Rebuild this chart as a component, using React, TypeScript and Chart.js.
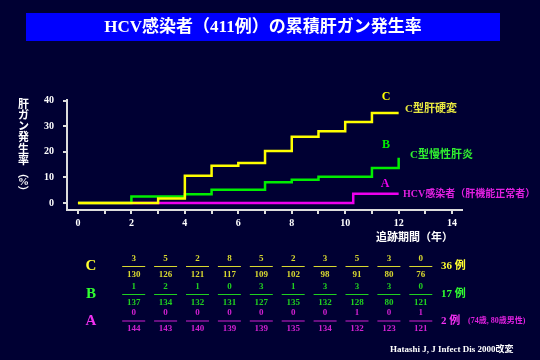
import React, { useEffect, useRef } from 'react';
import { Chart, registerables } from 'chart.js';

Chart.register(...registerables);

// ---- chart data (cumulative incidence, %) ----
const cirrhosisX = [0, 3, 4, 5, 6, 7, 8, 9, 10, 11, 12];
const cirrhosisY = [0, 1.8, 10.7, 14.6, 15.6, 20.3, 25.9, 28.1, 31.7, 35.2, 35.2];
const chronicX = [0, 2, 4, 5, 7, 8, 9, 11, 12];
const chronicY = [0, 2.5, 3.4, 5.2, 8.1, 9.1, 10.3, 13.7, 17.7];
const normalX = [0, 10.3, 12];
const normalY = [0, 3.6, 3.6];

const xTicks = [0, 1, 2, 3, 4, 5, 6, 7, 8, 9, 10, 11, 12, 13, 14];
const yTicks = [0, 10, 20, 30, 40];

// ---- table below chart ----
const rowLabels = ['C', 'B', 'A'];
const cNum = [3, 5, 2, 8, 5, 2, 3, 5, 3, 0];
const cDen = [130, 126, 121, 117, 109, 102, 98, 91, 80, 76];
const bNum = [1, 2, 1, 0, 3, 1, 3, 3, 3, 0];
const bDen = [137, 134, 132, 131, 127, 135, 132, 128, 80, 121];
const aNum = [0, 0, 0, 0, 0, 0, 0, 1, 0, 1];
const aDen = [144, 143, 140, 139, 139, 135, 134, 132, 123, 121];
const totals = [36, 17, 2];

const TITLE = 'HCV感染者（411例）の累積肝ガン発生率';
const Y_LABEL = '肝ガン発生率（%）';
const X_LABEL = '追跡期間（年）';
const SERIES_NAMES = ['C型肝硬変', 'C型慢性肝炎', 'HCV感染者（肝機能正常者）'];
const NOTE_A = '(74歳, 80歳男性)';
const SOURCE = 'Hatashi J, J Infect Dis 2000改変';

const BG = '#000033';
const YELLOW = '#ffff00';
const GREEN = '#00ee00';
const MAGENTA = '#ee00ee';
const SERIF = "'Liberation Serif', 'Noto Sans CJK JP', serif";
const GOTHIC = "'Noto Sans CJK JP', sans-serif";

function txt(
  ctx: CanvasRenderingContext2D,
  s: string,
  x: number,
  y: number,
  font: string,
  color: string,
  align: CanvasTextAlign = 'left'
) {
  ctx.font = font;
  ctx.fillStyle = color;
  ctx.textAlign = align;
  ctx.textBaseline = 'middle';
  ctx.fillText(s, x, y);
}

const decor = {
  id: 'decor',
  beforeDraw(chart: any) {
    const ctx: CanvasRenderingContext2D = chart.ctx;
    ctx.save();
    ctx.fillStyle = BG;
    ctx.fillRect(0, 0, chart.width, chart.height);
    ctx.fillStyle = '#0000ff';
    ctx.fillRect(26, 13, 474, 28);
    txt(ctx, TITLE, 263, 27.5, `bold 17px ${SERIF}`, '#ffffff', 'center');
    ctx.restore();
  },
  afterDraw(chart: any) {
    const ctx: CanvasRenderingContext2D = chart.ctx;
    ctx.save();
    // vertical y label
    const chars = Array.from(Y_LABEL);
    const ys = [105, 116, 127, 138.5, 150, 161.5, 173, 182, 191];
    chars.forEach((c, i) => {
      if (c === '（' || c === '）') {
        ctx.save();
        ctx.translate(23.5, ys[i]);
        ctx.rotate(Math.PI / 2);
        txt(ctx, c, 0, 0, `bold 11px ${GOTHIC}`, '#ffffff', 'center');
        ctx.restore();
      } else {
        txt(ctx, c, 23.5, ys[i], `bold 11px ${SERIF}`, '#ffffff', 'center');
      }
    });
    // series labels
    txt(ctx, 'C', 386, 97, `bold 12px ${SERIF}`, YELLOW, 'center');
    txt(ctx, SERIES_NAMES[0], 405, 109, `bold 11px ${SERIF}`, '#e8e840');
    txt(ctx, 'B', 386, 144.5, `bold 12px ${SERIF}`, GREEN, 'center');
    txt(ctx, SERIES_NAMES[1], 410, 155.5, `bold 11px ${SERIF}`, '#30f030');
    txt(ctx, 'A', 385, 184, `bold 12px ${SERIF}`, MAGENTA, 'center');
    txt(ctx, SERIES_NAMES[2], 403, 194, `bold 10px ${SERIF}`, '#e020e0');
    // x label
    txt(ctx, X_LABEL, 376, 238.5, `bold 11px ${SERIF}`, '#ffffff');

    // table
    const rows = [
      { num: cNum, den: cDen, color: '#d8d830', label: '#ffff30', y: 266 },
      { num: bNum, den: bDen, color: '#20d020', label: '#30ff30', y: 294 },
      { num: aNum, den: aDen, color: '#d020d0', label: '#f030f0', y: 320.5 },
    ];
    const colStart = 133.7;
    const colStep = 31.9;
    rows.forEach((r, ri) => {
      txt(ctx, rowLabels[ri], 91, r.y + 0.5, `bold 15px ${SERIF}`, r.label, 'center');
      r.num.forEach((n, i) => {
        const cx = colStart + i * colStep;
        txt(ctx, String(n), cx, r.y - 7.5, `bold 9px ${SERIF}`, r.color, 'center');
        txt(ctx, String(r.den[i]), cx, r.y + 8.5, `bold 9px ${SERIF}`, r.color, 'center');
        ctx.strokeStyle = r.color;
        ctx.lineWidth = 1;
        ctx.beginPath();
        ctx.moveTo(cx - 11.5, r.y + 0.5);
        ctx.lineTo(cx + 11.5, r.y + 0.5);
        ctx.stroke();
      });
      txt(ctx, `${totals[ri]} 例`, 441, r.y + 0.5, `bold 11px ${SERIF}`, r.label);
    });
    txt(ctx, NOTE_A, 468, 321, `bold 8px ${SERIF}`, '#e020e0');
    txt(ctx, SOURCE, 390, 350, `bold 9px ${SERIF}`, '#ffffff');
    ctx.restore();
  },
};

export default function App() {
  const ref = useRef<HTMLCanvasElement | null>(null);
  useEffect(() => {
    if (!ref.current) return;
    const mk = (xs: number[], ys: number[]) => xs.map((x, i) => ({ x, y: ys[i] }));
    const common = { stepped: 'before' as const, pointRadius: 0, borderWidth: 2.5, fill: false };
    const chart = new Chart(ref.current, {
      type: 'line',
      data: {
        datasets: [
          { ...common, data: mk(cirrhosisX, cirrhosisY), borderColor: YELLOW },
          { ...common, data: mk(chronicX, chronicY), borderColor: GREEN },
          { ...common, data: mk(normalX, normalY), borderColor: MAGENTA },
        ],
      },
      options: {
        animation: false,
        responsive: false,
        maintainAspectRatio: false,
        layout: { padding: { left: 0, right: 78, top: 100, bottom: 120 } },
        plugins: { legend: { display: false }, tooltip: { enabled: false } },
        scales: {
          x: {
            type: 'linear',
            min: -0.41,
            max: 14.37,
            afterBuildTicks: (s: any) => {
              s.ticks = xTicks.map((v) => ({ value: v }));
            },
            afterFit: (s: any) => {
              s.height = 30;
            },
            ticks: {
              autoSkip: false,
              maxRotation: 0,
              padding: 3,
              color: '#ffffff',
              font: { family: SERIF, size: 10, weight: 'bold' },
              callback: (v: any) => (Number(v) % 2 === 0 ? String(v) : ''),
            },
            grid: { drawOnChartArea: false, color: '#dddddd', lineWidth: 2, tickLength: 4 },
            border: { color: '#dddddd', width: 2 },
          },
          y: {
            type: 'linear',
            min: -2.74,
            max: 40.27,
            afterBuildTicks: (s: any) => {
              s.ticks = yTicks.map((v) => ({ value: v }));
            },
            afterFit: (s: any) => {
              s.width = 67;
            },
            ticks: {
              padding: 9,
              color: '#ffffff',
              font: { family: SERIF, size: 10, weight: 'bold' },
            },
            grid: { drawOnChartArea: false, color: '#dddddd', lineWidth: 2, tickLength: 4 },
            border: { color: '#dddddd', width: 2 },
          },
        },
      },
      plugins: [decor],
    });
    return () => chart.destroy();
  }, []);
  return (
    <div style={{ position: 'fixed', left: 0, top: 0, width: 540, height: 360, background: BG }}>
      <canvas ref={ref} width={540} height={360} style={{ display: 'block' }} />
    </div>
  );
}
